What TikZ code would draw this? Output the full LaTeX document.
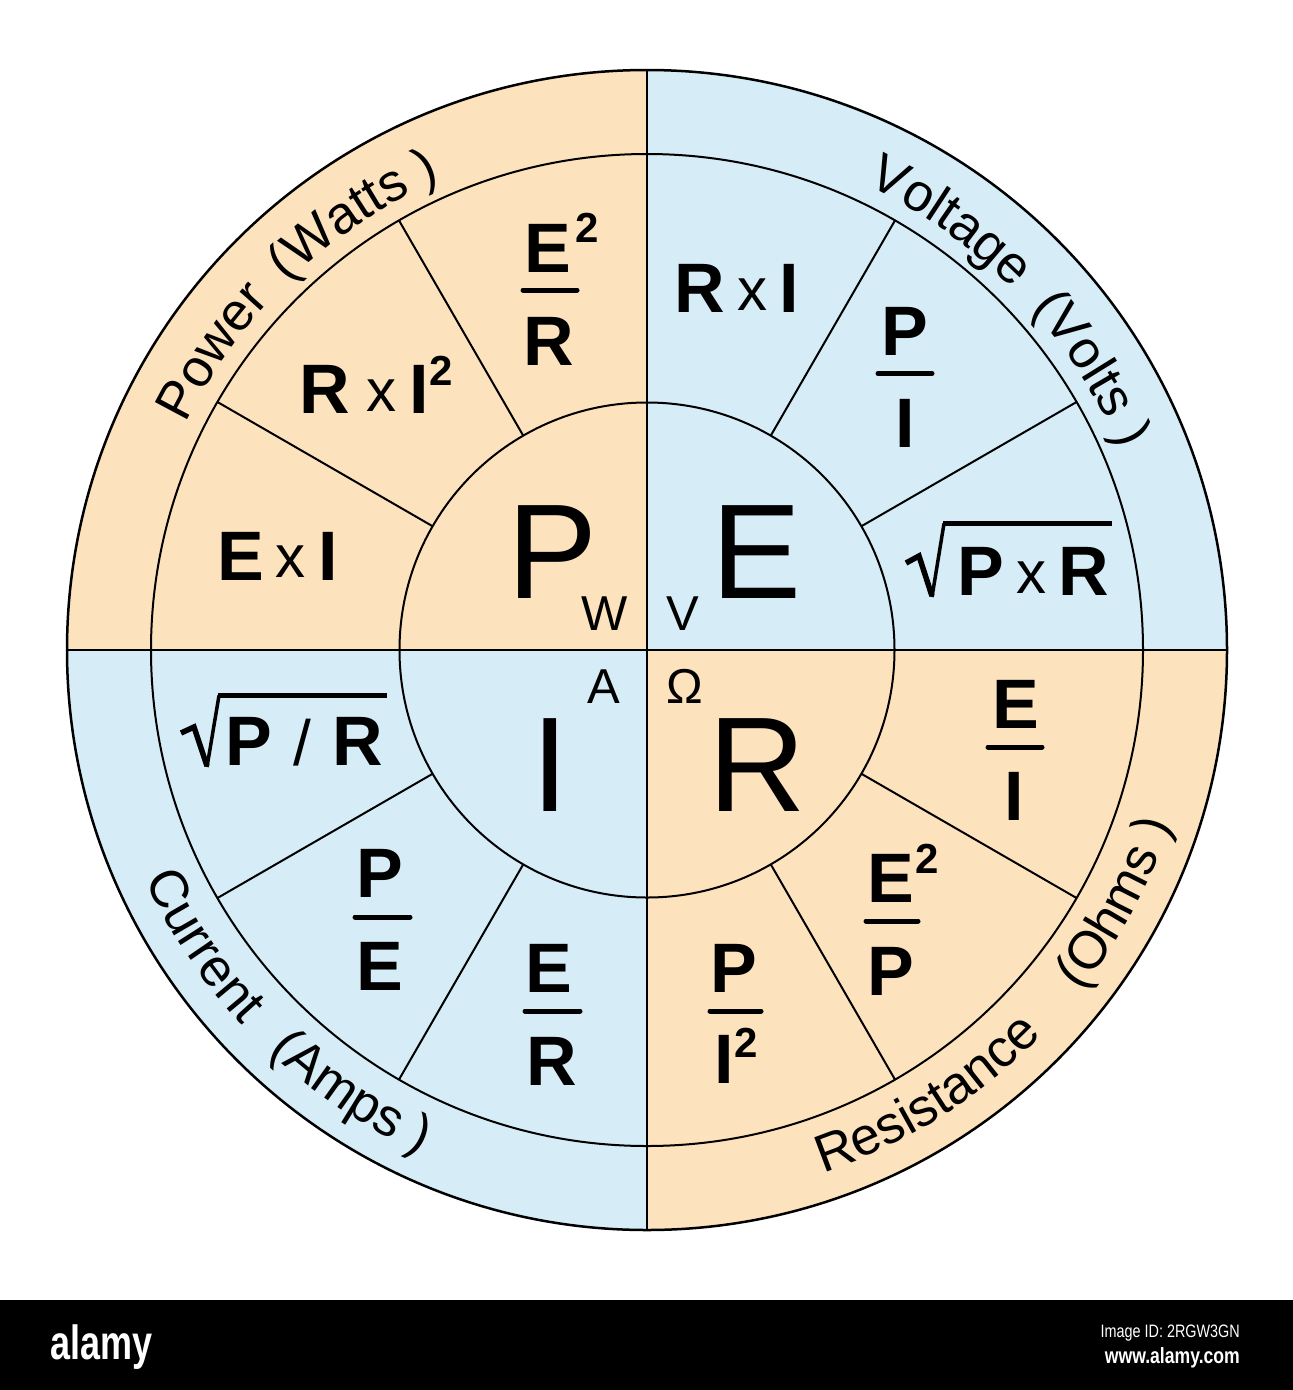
\documentclass[tikz,border=0pt]{standalone}
\usepackage{fontspec}
\setmainfont{Liberation Sans}
\usetikzlibrary{calc,decorations.text}
\definecolor{peach}{HTML}{FDE3BD}
\definecolor{sky}{HTML}{D6ECF7}
\newcommand\ringfont{\fontsize{53}{56}\selectfont}
\begin{document}
\begin{tikzpicture}[x=1pt,y=1pt,
  big/.style={font=\fontsize{135}{140}\selectfont, inner sep=0pt, anchor=base},
  unitst/.style={font=\fontsize{49}{52}\selectfont, inner sep=0pt, anchor=base},
  fb/.style={font=\fontsize{70}{74}\selectfont\bfseries, inner sep=0pt, anchor=base},
  fx/.style={font=\fontsize{60}{64}\selectfont, inner sep=0pt, anchor=base},
  supst/.style={font=\fontsize{42}{44}\selectfont\bfseries, inner sep=0pt, anchor=base},
  fracbar/.style={line width=5pt, line cap=round},
  thinline/.style={line width=2pt},
  toplabel/.style={decorate, decoration={text along path, text align=center, text={|\ringfont|#1}}},
]
\useasboundingbox (0,0) rectangle (1293,-1390);
\coordinate (C) at (647,-650);

% quadrants
\fill[peach] (C) -- ($(C)+(90:580)$) arc[start angle=90, end angle=180, radius=580] -- cycle;
\fill[sky] (C) -- ($(C)+(0:580)$) arc[start angle=0, end angle=90, radius=580] -- cycle;
\fill[sky] (C) -- ($(C)+(180:580)$) arc[start angle=180, end angle=270, radius=580] -- cycle;
\fill[peach] (C) -- ($(C)+(270:580)$) arc[start angle=270, end angle=360, radius=580] -- cycle;

% circles and lines
\draw[line width=2.5pt] (C) circle[radius=580];
\draw[thinline] (C) circle[radius=496];
\draw[thinline] (C) circle[radius=247.5];
\draw[thinline] ($(C)+(180:580)$) -- ($(C)+(0:580)$);
\draw[thinline] ($(C)+(90:580)$) -- ($(C)+(270:580)$);
\foreach \a in {30,60,120,150,210,240,300,330}
  \draw[thinline] ($(C)+(\a:247.5)$) -- ($(C)+(\a:496)$);

% ring labels (top: clockwise, bottom: counter-clockwise)
\path[toplabel={Power}] ($(C)+(165.5:514)$) arc[start angle=165.5, end angle=125.5, radius=514];
\path[toplabel={(Watts )}] ($(C)+(144:514)$) arc[start angle=144, end angle=104, radius=514];
\path[toplabel={Voltage}] ($(C)+(74.7:514)$) arc[start angle=74.7, end angle=34.7, radius=514];
\path[toplabel={(Volts )}] ($(C)+(52.3:514)$) arc[start angle=52.3, end angle=12.3, radius=514];
\path[toplabel={Current}] ($(C)+(193.7:552)$) arc[start angle=193.7, end angle=233.7, radius=552];
\path[toplabel={(Amps )}] ($(C)+(216.3:552)$) arc[start angle=216.3, end angle=256.3, radius=552];
\path[toplabel={Resistance}] ($(C)+(282.2:552)$) arc[start angle=282.2, end angle=322.2, radius=552];
\path[toplabel={(Ohms )}] ($(C)+(311.7:552)$) arc[start angle=311.7, end angle=351.7, radius=552];

% centre letters
\node[big] (bigP) at (552.5,-598) {P};
\node[big] (bigE) at (756.5,-598) {E};
\node[big] (bigI) at (550.5,-811) {I};
\node[big] (bigR) at (757.5,-811) {R};
\node[unitst] (uW) at (604.5,-630) {W};
\node[unitst] (uV) at (683,-630) {V};
\node[unitst] (uA) at (604,-703) {A};
\node[unitst] (uO) at (684.5,-703) {Ω};

% P quadrant
\node[fb] (exiE) at (241,-580) {E};
\node[fx] (exiX) at (290,-577) {x};
\node[fb] (exiI) at (328.5,-580) {I};
\node[fb] (rxiR) at (325,-413) {R};
\node[fx] (rxiX) at (381,-411) {x};
\node[fb] (rxiI) at (419.5,-413) {I};
\node[supst] (rxi2) at (441,-385) {2};
\node[fb] (erE) at (547.5,-272) {E};
\node[supst] (erS) at (587,-242) {2};
\draw[fracbar] (523,-290) -- (577,-290);
\node[fb] (erR) at (549,-365) {R};

% E quadrant
\node[fb] (rxR) at (700,-312) {R};
\node[fx] (rxX) at (752,-310) {x};
\node[fb] (rxI) at (789,-312) {I};
\node[fb] (piP) at (905,-355) {P};
\draw[fracbar] (878,-373.5) -- (932,-373.5);
\node[fb] (piI) at (905,-447) {I};
\draw[line width=5.5pt, line join=miter] (906,-563) -- (919,-556) -- (932,-596);
\draw[line width=3.5pt] (932,-597) -- (944,-523.5);
\draw[line width=5pt] (943,-523.5) -- (1112,-523.5);
\node[fb] (prP) at (981,-595) {P};
\node[fx] (prX) at (1031.5,-593) {x};
\node[fb] (prR) at (1083.5,-595) {R};

% R quadrant
\node[fb] (eiE) at (1015.5,-728) {E};
\draw[fracbar] (988,-747) -- (1042,-747);
\node[fb] (eiI) at (1014.5,-820) {I};
\node[fb] (epE) at (890.5,-902) {E};
\node[supst] (epS) at (927,-873) {2};
\draw[fracbar] (866,-921) -- (918,-921);
\node[fb] (epP) at (891,-995) {P};
\node[fb] (piiP) at (733.5,-992) {P};
\draw[fracbar] (710,-1011) -- (761,-1011);
\node[fb] (piiI) at (724.5,-1083) {I};
\node[supst] (piiS) at (746,-1057) {2};

% I quadrant
\draw[line width=5.5pt, line join=miter] (181,-733) -- (194,-727) -- (207,-766);
\draw[line width=3.5pt] (207,-767) -- (219,-695.5);
\draw[line width=5pt] (218,-695.5) -- (387,-695.5);
\node[fb] (sprP) at (248.5,-765) {P};
\node[font=\fontsize{64}{66}\selectfont, inner sep=0pt, anchor=base] (sprS) at (302,-765) {/};
\node[fb] (sprR) at (357.5,-765) {R};
\node[fb] (peP) at (380,-897) {P};
\draw[fracbar] (355,-917) -- (410,-917);
\node[fb] (peE) at (379.5,-990) {E};
\node[fb] (erE2) at (549,-992) {E};
\draw[fracbar] (525,-1011) -- (580,-1011);
\node[fb] (erR2) at (551.5,-1085) {R};

% bottom band
\fill[black] (0,-1300) rectangle (1293,-1390);
\node[white, font=\fontsize{48}{50}\selectfont\bfseries, inner sep=0pt, anchor=base west, xscale=0.75] (logo) at (50,-1359) {alamy};
\node[white, font=\fontsize{18}{20}\selectfont, inner sep=0pt, anchor=base east, xscale=0.8] (imgid) at (1240,-1337) {Image ID: 2RGW3GN};
\node[white, font=\fontsize{22}{24}\selectfont\bfseries, inner sep=0pt, anchor=base east, xscale=0.8] (www) at (1240,-1363) {www.alamy.com};
\end{tikzpicture}
\end{document}
